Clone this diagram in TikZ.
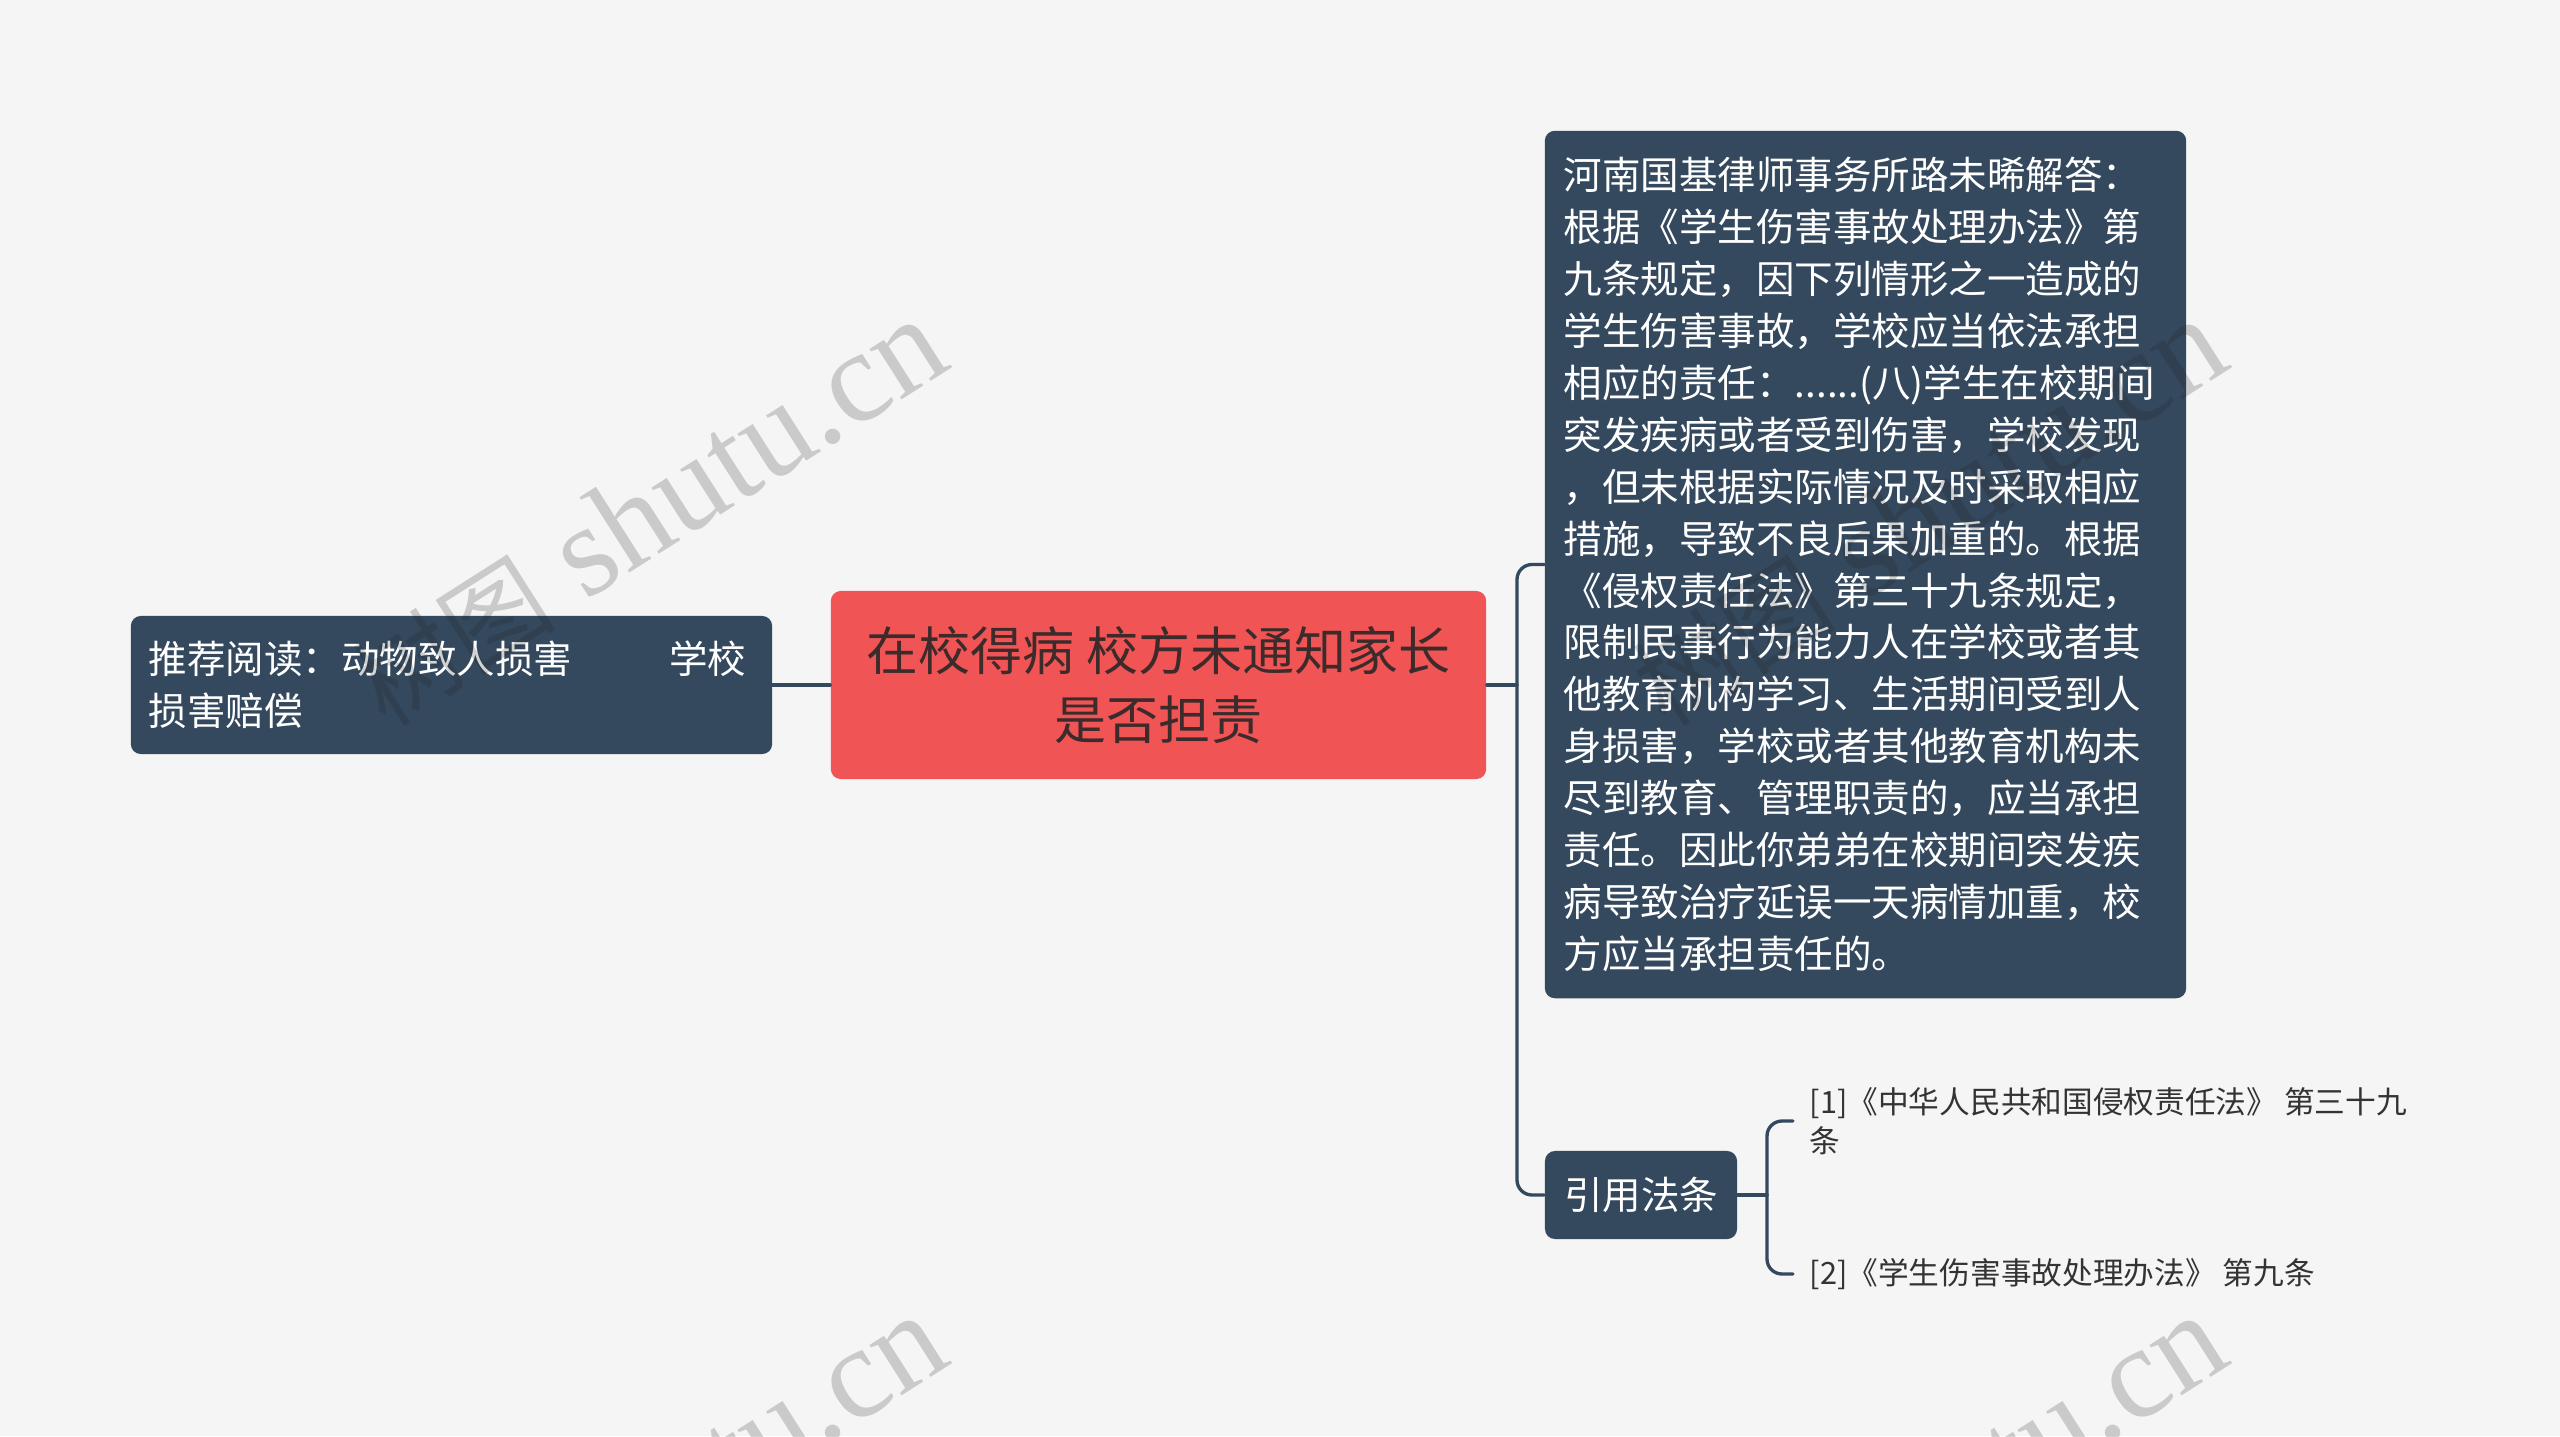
\documentclass[tikz,border=0pt]{standalone}
\usepackage{fontspec}
\setmainfont{Noto Sans CJK SC}
\newfontfamily\wmlat{Liberation Serif}
\definecolor{bg}{HTML}{F5F5F5}
\definecolor{navy}{HTML}{34495E}
\definecolor{redbox}{HTML}{F05455}
\definecolor{redtext}{HTML}{3D2B2B}
\definecolor{leaftext}{HTML}{333333}
\definecolor{wmgray}{HTML}{202020}
\newcommand{\wmtext}{{\fontsize{29}{31}\selectfont 树图}\hspace{0.32cm}{\wmlat\fontsize{37}{39}\selectfont shutu.cn}}
\begin{document}
\begin{tikzpicture}[x=0.01cm,y=-0.01cm,
  darkbox/.style={fill=navy, text=white, rounded corners=0.1cm, inner ysep=0pt,
    font=\fontsize{10.95}{14.77}\selectfont},
  centerbox/.style={fill=redbox, text=redtext, rounded corners=0.1cm, inner sep=0pt, align=center,
    font=\fontsize{14.8}{19.5}\selectfont},
  leaf/.style={text=leaftext, inner xsep=0.16cm, inner ysep=0pt, align=left, anchor=west,
    font=\fontsize{8.73}{11.1}\selectfont},
  conn/.style={draw=navy, line width=0.95pt, line cap=round},
  wmstyle/.style={text=wmgray, opacity=0.2, rotate=32.5, inner sep=0pt}
]
\fill[bg] (0,0) rectangle (2560,1436);
\useasboundingbox (0,0) rectangle (2560,1436);

\node[darkbox, minimum width=6.41cm, minimum height=1.38cm, text width=6.05cm, inner xsep=0.18cm, align=left]
  (left) at (451.5,685) {\makebox[5.2cm][l]{推荐阅读：动物致人损害}学校\\损害赔偿};

\node[centerbox, minimum width=6.55cm, minimum height=1.88cm]
  (center) at (1158.5,685) {在校得病 校方未通知家长\\是否担责};

\node[darkbox, minimum width=6.41cm, minimum height=8.67cm, text width=6.03cm, inner xsep=0.19cm, align=left]
  (big) at (1865.5,564.5) {河南国基律师事务所路未晞解答：\\
根据《学生伤害事故处理办法》第\\
九条规定，因下列情形之一造成的\\
学生伤害事故，学校应当依法承担\\
相应的责任：......(八)学生在校期间\\
突发疾病或者受到伤害，学校发现\\
，但未根据实际情况及时采取相应\\
措施，导致不良后果加重的。根据\\
《侵权责任法》第三十九条规定，\\
限制民事行为能力人在学校或者其\\
他教育机构学习、生活期间受到人\\
身损害，学校或者其他教育机构未\\
尽到教育、管理职责的，应当承担\\
责任。因此你弟弟在校期间突发疾\\
病导致治疗延误一天病情加重，校\\
方应当承担责任的。};

\node[darkbox, minimum width=1.92cm, minimum height=0.88cm, inner xsep=0pt]
  (ref) at (1641,1195) {引用法条};

\node[leaf] (l1) at (1793,1121) {[1]《中华人民共和国侵权责任法》 第三十九\\条};
\node[leaf] (l2) at (1793,1274) {[2]《学生伤害事故处理办法》 第九条};

\coordinate (j) at (1517,685);
\coordinate (j2) at (1767,1195);

\draw[conn] (left.east) -- (center.west);
\draw[conn] (center.east) -- (j);
\draw[conn, rounded corners=0.15cm] (j) |- (big.west);
\draw[conn, rounded corners=0.15cm] (j) |- (ref.west);
\draw[conn] (ref.east) -- (j2);
\draw[conn, rounded corners=0.15cm] (j2) |- (l1.west);
\draw[conn, rounded corners=0.15cm] (j2) |- (l2.west);

\node[wmstyle] (wm1) at (648,513) {\wmtext};
\node[wmstyle] (wm2) at (1928,513) {\wmtext};
\node[wmstyle] (wm3) at (648,1509) {\wmtext};
\node[wmstyle] (wm4) at (1928,1509) {\wmtext};
\end{tikzpicture}
\end{document}
